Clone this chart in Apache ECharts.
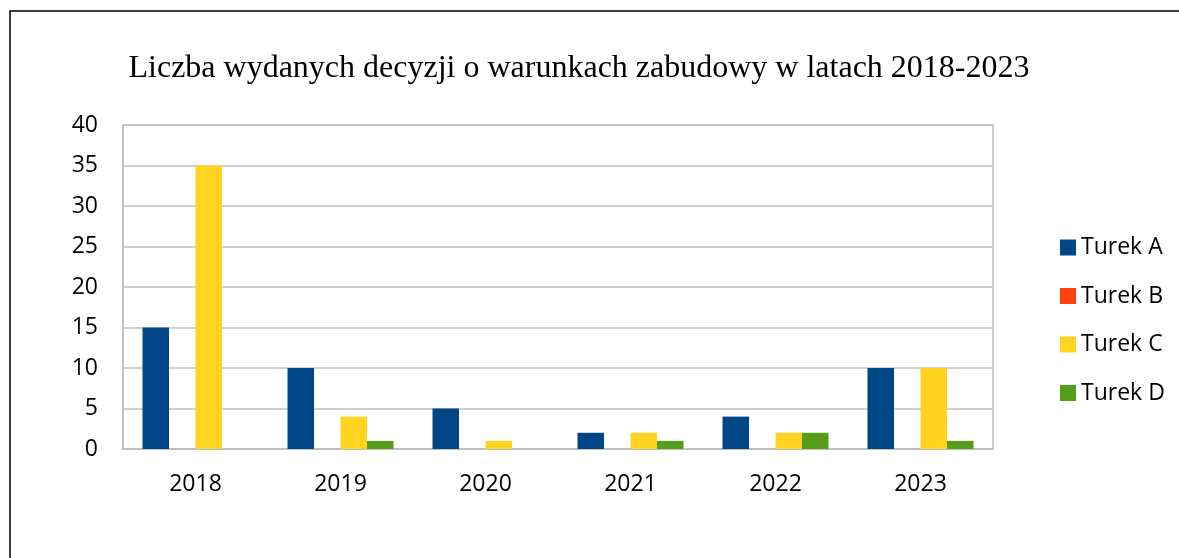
<!DOCTYPE html>
<html>
<head>
<meta charset="utf-8">
<script src="https://cdn.jsdelivr.net/npm/echarts@6/dist/echarts.min.js"></script>
<style>
  html, body { margin: 0; padding: 0; background: #fff; }
  #chart { width: 1179px; height: 558px; }
</style>
</head>
<body>
<div id="chart"></div>
<script>
// dane
var lata = ['2018', '2019', '2020', '2021', '2022', '2023'];
var turekA = [15, 10, 5, 2, 4, 10];
var turekB = [0, 0, 0, 0, 0, 0];
var turekC = [35, 4, 1, 2, 2, 10];
var turekD = [0, 1, 0, 1, 2, 1];
var nazwy = ['Turek A', 'Turek B', 'Turek C', 'Turek D'];
var kolory = ['#004586', '#ff420e', '#ffd320', '#579d1c'];

var myChart = echarts.init(document.getElementById('chart'));
var font = '"Open Sans", sans-serif';

function seria(i, dane) {
    return {
        name: nazwy[i],
        type: 'bar',
        data: dane,
        barWidth: 26.5,
        barGap: '0%',
        itemStyle: { color: kolory[i] },
        emphasis: { disabled: true }
    };
}

var option = {
    animation: false,
    color: kolory,
    graphic: [{
        type: 'rect',
        shape: { x: 10, y: 11, width: 1200, height: 600 },
        style: { fill: 'none', stroke: '#000', lineWidth: 1.5 },
        z: -1
    }],
    title: {
        text: 'Liczba wydanych decyzji o warunkach zabudowy w latach 2018-2023',
        left: 574,
        textAlign: 'center',
        top: 48,
        textStyle: {
            fontFamily: '"Liberation Serif", "Times New Roman", serif',
            fontWeight: 'normal',
            fontSize: 32,
            color: '#000'
        }
    },
    legend: {
        orient: 'vertical',
        left: 1055,
        top: 231,
        itemWidth: 16,
        itemHeight: 16,
        itemGap: 25.5,
        icon: 'rect',
        data: nazwy,
        textStyle: { fontFamily: font, fontSize: 23, color: '#000', lineHeight: 23 }
    },
    grid: {
        left: 123,
        top: 125,
        width: 870,
        height: 324,
        show: true,
        borderColor: '#bfbfbf',
        borderWidth: 1.5,
        containLabel: false
    },
    xAxis: {
        type: 'category',
        data: lata,
        axisLine: { lineStyle: { color: '#bfbfbf', width: 1.5 } },
        axisTick: { show: false },
        axisLabel: { fontFamily: font, fontSize: 23, color: '#000', margin: 24 }
    },
    yAxis: {
        type: 'value',
        min: 0,
        max: 40,
        interval: 5,
        axisLine: { show: true, lineStyle: { color: '#bfbfbf', width: 1.5 } },
        axisTick: { show: false },
        splitLine: { lineStyle: { color: '#bfbfbf', width: 1.5 } },
        axisLabel: { fontFamily: font, fontSize: 23, color: '#000', margin: 25 }
    },
    series: [
        seria(0, turekA),
        seria(1, turekB),
        seria(2, turekC),
        seria(3, turekD)
    ]
};

myChart.setOption(option);
</script>
</body>
</html>
